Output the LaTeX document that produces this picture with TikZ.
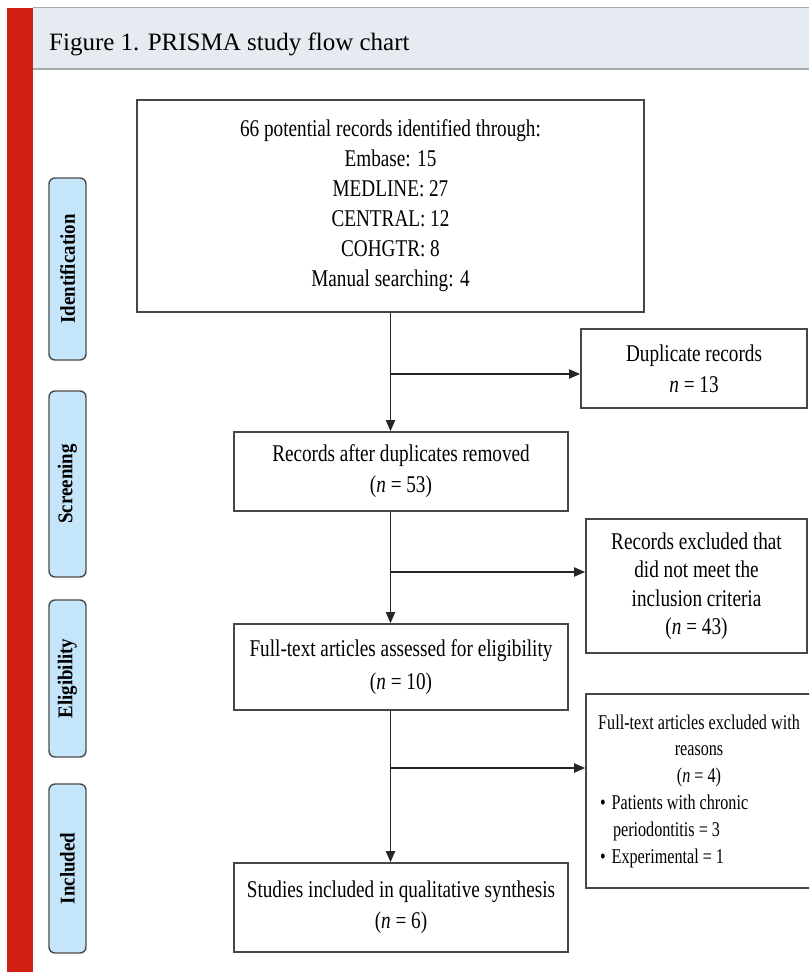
\documentclass[tikz,border=0pt]{standalone}
\usepackage{fontspec}
\setmainfont{Liberation Serif}
\newfontfamily\boxfont[FakeStretch=0.80]{Liberation Serif}
\newfontfamily\smallboxfont[FakeStretch=0.77]{Liberation Serif}
\newfontfamily\labfont[FakeStretch=0.9]{Liberation Serif}
\usetikzlibrary{arrows.meta}
\definecolor{redbar}{RGB}{210,32,20}
\definecolor{headbg}{RGB}{229,235,241}
\definecolor{headline}{RGB}{165,170,175}
\definecolor{labfill}{RGB}{197,229,250}
\definecolor{boxline}{RGB}{70,70,70}
\begin{document}
\begin{tikzpicture}[x=1pt,y=-1pt,
  flowbox/.style={draw=boxline,line width=1.6pt,fill=white,inner sep=0pt,align=center,
    font={\boxfont\fontsize{24}{31}\selectfont}},
  stage/.style={draw=black!70,line width=1.4pt,fill=labfill,rounded corners=6pt,inner sep=0pt,
    minimum height=37pt,rotate=90,font={\labfont\bfseries\fontsize{21}{22}\selectfont}},
  arr/.style={line width=1.8pt,draw=black!85,-{Triangle[length=11pt,width=9pt]}}]
\useasboundingbox (0,0) rectangle (809,972);
\clip (0,0) rectangle (809,972);
\fill[white] (0,0) rectangle (809,972);
% header
\fill[redbar] (7,8) rectangle (33,972);
\fill[headbg] (33,7) rectangle (809,69);
\draw[headline,line width=1.2pt] (33,7.5) -- (809,7.5);
\draw[headline,line width=2.2pt] (33,69) -- (809,69);
\node[anchor=base west,inner sep=0pt,font=\fontsize{25}{30}\selectfont] (title) at (49,50) {Figure 1. PRISMA study flow chart};
% stage labels
\node[stage,minimum width=182pt] (lid) at (67.5,269) {Identification};
\node[stage,minimum width=186pt] (lsc) at (67.5,484) {Screening};
\node[stage,minimum width=157pt] (lel) at (67.5,678.5) {Eligibility};
\node[stage,minimum width=169pt] (lin) at (67.5,868.5) {Included};
% boxes
\node[flowbox,minimum width=507pt,minimum height=212pt,font={\boxfont\fontsize{24}{30}\selectfont}] (b1) at (390.5,206)
  {66 potential records identified through:\\Embase: 15\\MEDLINE: 27\\CENTRAL: 12\\COHGTR: 8\\Manual searching: 4};
\node[flowbox,minimum width=226pt,minimum height=79pt] (dup) at (694,368.5)
  {Duplicate records\\\textit{n} = 13};
\node[flowbox,minimum width=334pt,minimum height=79pt] (rec) at (401,471.5)
  {Records after duplicates removed\\(\textit{n} = 53)};
\node[flowbox,minimum width=221pt,minimum height=134pt,font={\boxfont\fontsize{24}{28.5}\selectfont}] (excl) at (696.5,586)
  {Records excluded that\\did not meet the\\inclusion criteria\\(\textit{n} = 43)};
\node[flowbox,minimum width=334pt,minimum height=86pt,font={\boxfont\fontsize{24}{33}\selectfont}] (ft) at (401,667)
  {Full-text articles assessed for eligibility\\(\textit{n} = 10)};
\node[flowbox,minimum width=226pt,minimum height=194pt,font={\smallboxfont\fontsize{21}{26.8}\selectfont}] (fte) at (699,791)
  {Full-text articles excluded with\\reasons\\(\textit{n} = 4)\\
   \makebox[198pt][l]{\textbullet\hspace{6pt}Patients with chronic}\\
   \makebox[198pt][l]{\hspace*{13pt}periodontitis = 3}\\
   \makebox[198pt][l]{\textbullet\hspace{6pt}Experimental = 1}};
\node[flowbox,minimum width=334pt,minimum height=89pt] (st) at (401,907.5)
  {Studies included in qualitative synthesis\\(\textit{n} = 6)};
% connectors
\coordinate (j1) at (391,374);
\coordinate (j2) at (391,572);
\coordinate (j3) at (391,768);
\draw[arr] (b1.south) -- (b1.south |- rec.north);
\draw[arr] (j1) -- (j1 -| dup.west);
\draw[arr] (b1.south |- rec.south) -- (b1.south |- ft.north);
\draw[arr] (j2) -- (j2 -| excl.west);
\draw[arr] (b1.south |- ft.south) -- (b1.south |- st.north);
\draw[arr] (j3) -- (j3 -| fte.west);
\end{tikzpicture}
\end{document}
